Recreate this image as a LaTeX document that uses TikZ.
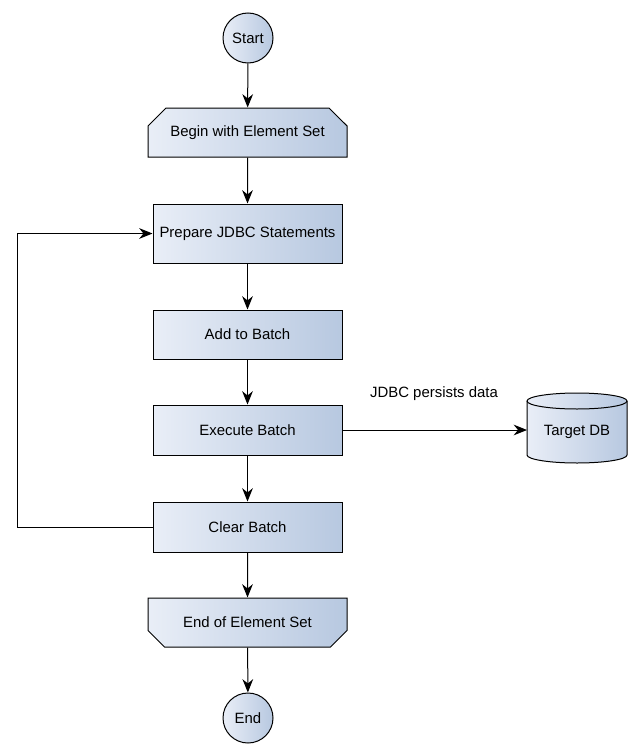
\documentclass[tikz,border=0pt]{standalone}
\usepackage{fontspec}
\setmainfont{Liberation Sans}
\usetikzlibrary{arrows.meta,shapes.misc}
\begin{document}
\begin{tikzpicture}[x=0.75pt,y=-0.75pt,
  every node/.style={font=\fontsize{11.2pt}{13pt}\selectfont, inner sep=0pt},
  fillgrad/.style={left color=gradL, right color=gradR},
  procbox/.style={draw=black, line width=0.75pt, fillgrad, minimum width=141.75pt},
  termcirc/.style={draw=black, line width=0.75pt, circle, minimum size=37.5pt, fillgrad},
  loopbox/.style={draw=black, line width=0.75pt, chamfered rectangle, chamfered rectangle xsep=9.75pt, chamfered rectangle ysep=8.25pt, fillgrad, minimum width=149.25pt, minimum height=36.75pt},
  conn/.style={line width=0.75pt, -{Stealth[length=10pt,width=8pt]}}
]
\definecolor{gradL}{HTML}{E9EEF7}
\definecolor{gradR}{HTML}{B7C8E0}
\useasboundingbox (0,0) rectangle (638,753);

\node[termcirc] (start) at (248,38) {Start};
\node[loopbox, chamfered rectangle corners={north west,north east}] (begin) at (247.5,132.5) {Begin with Element Set};
\node[procbox, minimum height=44.25pt] (prep) at (247.5,233.5) {Prepare JDBC Statements};
\node[procbox, minimum height=36.75pt] (add) at (247.5,334.5) {Add to Batch};
\node[procbox, minimum height=37.5pt] (exec) at (247.5,430) {Execute Batch};
\node[procbox, minimum height=37.5pt] (clear) at (247.5,527) {Clear Batch};
\node[loopbox, chamfered rectangle corners={south west,south east}] (endset) at (247.5,622.5) {End of Element Set};
\node[termcirc] (end) at (248,718) {End};

% Target DB cylinder
\path[fillgrad, draw=black, line width=0.75pt]
  (527,401) -- (527,455) arc[start angle=180, end angle=0, x radius=50, y radius=8] -- (627,401)
  arc[start angle=0, end angle=-180, x radius=50, y radius=8] -- cycle;
\draw[line width=0.75pt] (527,401) arc[start angle=180, end angle=0, x radius=50, y radius=8];
\node (db) at (577,432) {Target DB};
\coordinate (dbin) at (527,430);

\node (lbl) at (434,394) {JDBC persists data};

\draw[conn] (start) -- (begin);
\draw[conn] (begin) -- (prep);
\draw[conn] (prep) -- (add);
\draw[conn] (add) -- (exec);
\draw[conn] (exec) -- (clear);
\draw[conn] (clear) -- (endset);
\draw[conn] (endset) -- (end);
\draw[conn] (exec.east) -- (dbin);
\draw[conn] (clear.west) -- (17,527) |- (prep.west);
\end{tikzpicture}
\end{document}
